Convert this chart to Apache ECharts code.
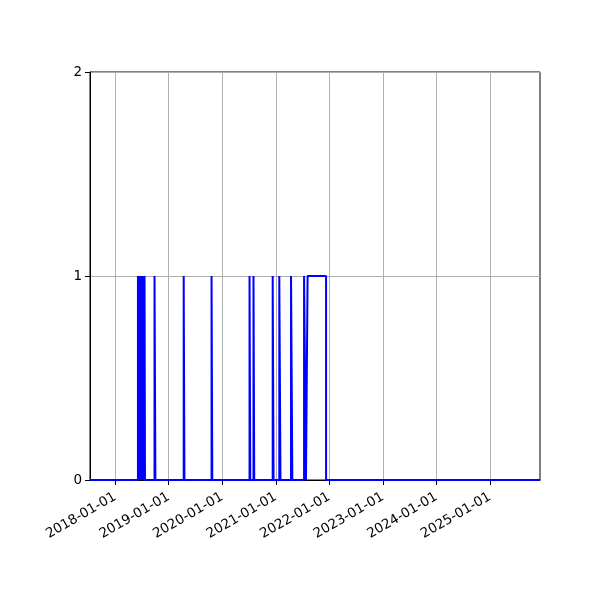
<!DOCTYPE html>
<html>
<head>
<meta charset="utf-8">
<script src="https://cdn.jsdelivr.net/npm/echarts@6/dist/echarts.min.js"></script>
<style>
  html, body { margin: 0; padding: 0; background: #fff; }
  #chart { width: 600px; height: 600px; }
</style>
</head>
<body>
<div id="chart"></div>
<script>
// periods where the flag is 1 (start / end dates, same index)
const onStart = [
  '2018-06-06', '2018-06-11', '2018-06-16', '2018-06-21', '2018-06-26',
  '2018-07-01', '2018-07-06', '2018-07-11', '2018-07-16', '2018-07-21',
  '2018-09-27', '2019-04-14', '2019-10-21', '2020-07-06', '2020-08-02',
  '2020-12-11', '2021-01-25', '2021-04-15', '2021-07-13', '2021-08-06'
];
const onEnd = [
  '2018-06-08', '2018-06-13', '2018-06-18', '2018-06-23', '2018-06-28',
  '2018-07-03', '2018-07-08', '2018-07-13', '2018-07-18', '2018-07-24',
  '2018-10-03', '2019-04-19', '2019-10-26', '2020-07-11', '2020-08-07',
  '2020-12-17', '2021-02-02', '2021-04-24', '2021-07-26', '2021-12-10'
];
const rangeStart = '2017-07-14';
const rangeEnd = '2025-12-08';
const tickDates = ['2018-01-01', '2019-01-01', '2020-01-01', '2021-01-01',
  '2022-01-01', '2023-01-01', '2024-01-01', '2025-01-01'];
const yTicks = [0, 1, 2];

const ts = (d) => new Date(d + 'T00:00:00Z').getTime();

// step series: hold previous value until the next point
const points = [[ts(rangeStart), 0]];
for (let i = 0; i < onStart.length; i++) {
  points.push([ts(onStart[i]), 1]);
  points.push([ts(onEnd[i]), 0]);
}
points.push([ts(rangeEnd), 0]);

const fmt = (v) => {
  const d = new Date(v);
  const p = (n) => String(n).padStart(2, '0');
  return d.getUTCFullYear() + '-' + p(d.getUTCMonth() + 1) + '-' + p(d.getUTCDate());
};

const font = 'DejaVu Sans';
const chart = echarts.init(document.getElementById('chart'));
chart.setOption({
  animation: false,
  grid: {
    left: 90, right: 60, top: 72, bottom: 120,
    show: true, borderColor: '#000', borderWidth: 1, backgroundColor: 'transparent'
  },
  xAxis: {
    type: 'value',
    min: ts(rangeStart),
    max: ts(rangeEnd),
    axisLine: { show: true, lineStyle: { color: '#000', width: 1 } },
    axisTick: {
      show: true, length: 5, inside: false,
      lineStyle: { color: '#000' },
      customValues: tickDates.map(ts)
    },
    axisLabel: {
      customValues: tickDates.map(ts),
      rotate: 30,
      margin: 16,
      color: '#000',
      fontFamily: font,
      fontSize: 13.5,
      formatter: (v) => fmt(v),
      hideOverlap: false
    },
    splitLine: { show: true, lineStyle: { color: '#b0b0b0', width: 1 } }
  },
  yAxis: {
    type: 'value',
    min: 0,
    max: 2,
    interval: 1,
    axisLine: { show: true, lineStyle: { color: '#000', width: 1 } },
    axisTick: { show: true, length: 5, inside: false, lineStyle: { color: '#000' } },
    axisLabel: {
      margin: 8, color: '#000', fontFamily: font, fontSize: 13.5,
      formatter: (v) => yTicks.includes(v) ? String(v) : ''
    },
    splitLine: { show: true, lineStyle: { color: '#b0b0b0', width: 1 } }
  },
  series: [{
    type: 'line',
    step: 'end',
    data: points,
    showSymbol: false,
    symbol: 'none',
    clip: true,
    lineStyle: { color: '#0000ff', width: 2 },
    itemStyle: { color: '#0000ff' }
  }]
});
</script>
</body>
</html>
